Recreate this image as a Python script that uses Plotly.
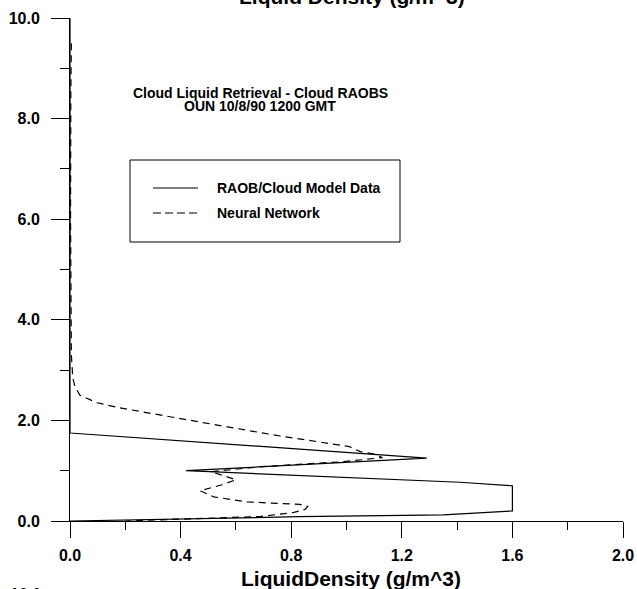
import plotly.graph_objects as go

# ---- data ----
raob_x = [0.0, 0.0, 1.29, 0.42, 1.41, 1.6, 1.6, 1.35, 0.83, 0.40, 0.0]
raob_y = [10.0, 1.75, 1.25, 1.0, 0.77, 0.70, 0.20, 0.12, 0.085, 0.04, 0.0]

nn_x = [0.005, 0.003, 0.002, 0.004, 0.005, 0.01, 0.018, 0.036, 0.098, 0.18, 0.33, 0.57, 0.76,
        0.93, 1.01, 1.05, 1.10, 1.13, 0.99, 0.69, 0.51, 0.55, 0.60, 0.55, 0.47, 0.52, 0.64,
        0.83, 0.86, 0.85, 0.81, 0.69, 0.40, 0.20]
nn_y = [9.5, 8.5, 6.0, 4.3, 3.3, 2.85, 2.67, 2.5, 2.35, 2.25, 2.1, 1.87, 1.69,
        1.545, 1.48, 1.38, 1.33, 1.26, 1.18, 1.08, 0.98, 0.91, 0.82, 0.72, 0.60, 0.48, 0.38,
        0.33, 0.29, 0.23, 0.17, 0.09, 0.03, 0.0]

series_names = ["RAOB/Cloud Model Data", "Neural Network"]
title_text = "Liquid Density (g/m^3)"
xlabel_text = "LiquidDensity (g/m^3)"
inner_title = ["Cloud Liquid Retrieval - Cloud RAOBS", "OUN 10/8/90 1200 GMT"]

FONT = "Liberation Sans, Arial, Helvetica, sans-serif"
W, H = 637, 589
L, R, T, B = 70, 14, 18, 68
PW, PH = W - L - R, H - T - B


def px(xp):
    return (xp - L) / PW


def py(yp):
    return (H - B - yp) / PH


fig = go.Figure()
fig.add_trace(go.Scatter(x=raob_x, y=raob_y, mode="lines", name=series_names[0],
                         line=dict(color="black", width=1.2), showlegend=False))
fig.add_trace(go.Scatter(x=nn_x, y=nn_y, mode="lines", name=series_names[1],
                         line=dict(color="black", width=1.2, dash="7px,5px"), showlegend=False))

tickfont = dict(family=FONT, size=16, color="black", weight="bold")

fig.update_layout(
    width=W, height=H,
    margin=dict(l=L, r=R, t=T, b=B, pad=0, autoexpand=False),
    paper_bgcolor="white", plot_bgcolor="white",
    showlegend=False,
    xaxis=dict(range=[0, 2], dtick=0.4, tick0=0, tickformat=".1f", automargin=False,
               showgrid=False, zeroline=False, showline=True, linecolor="black", linewidth=1,
               ticks="outside", ticklen=16, tickwidth=1, tickcolor="black",
               tickfont=tickfont, ticklabelstandoff=4,
               minor=dict(dtick=0.2, tick0=0, ticks="outside", ticklen=8, tickwidth=1,
                          tickcolor="black", showgrid=False),
               fixedrange=True),
    yaxis=dict(range=[0, 10], dtick=2, tick0=0, tickformat=".1f", automargin=False,
               showgrid=False, zeroline=False, showline=True, linecolor="black", linewidth=1,
               ticks="outside", ticklen=18, tickwidth=1, tickcolor="black",
               tickfont=tickfont, ticklabelstandoff=8,
               minor=dict(dtick=1, tick0=0, ticks="outside", ticklen=9, tickwidth=1,
                          tickcolor="black", showgrid=False),
               fixedrange=True),
)

ann_font = dict(family=FONT, size=14, color="black", weight="bold")
big_font = dict(family=FONT, size=21, color="black", weight="bold")

annotations = [
    dict(text=title_text, x=px(352), y=py(-4), xref="paper", yref="paper",
         xanchor="center", yanchor="middle", showarrow=False, font=big_font),
    dict(text=xlabel_text, x=px(351), y=py(578), xref="paper", yref="paper",
         xanchor="center", yanchor="middle", showarrow=False, font=big_font),
    dict(text=inner_title[0], x=px(260), y=py(93), xref="paper", yref="paper",
         xanchor="center", yanchor="middle", showarrow=False, font=ann_font),
    dict(text=inner_title[1], x=px(260), y=py(106), xref="paper", yref="paper",
         xanchor="center", yanchor="middle", showarrow=False, font=ann_font),
    dict(text=series_names[0], x=px(215), y=py(188), xref="paper", yref="paper",
         xanchor="left", yanchor="middle", showarrow=False, font=ann_font),
    dict(text=series_names[1], x=px(215), y=py(213), xref="paper", yref="paper",
         xanchor="left", yanchor="middle", showarrow=False, font=ann_font),
    dict(text="10.0", x=px(43), y=py(594), xref="paper", yref="paper",
         xanchor="right", yanchor="middle", showarrow=False, font=tickfont),
]
fig.update_layout(annotations=annotations)

shapes = [
    dict(type="rect", xref="paper", yref="paper", x0=px(130), x1=px(400), y0=py(242), y1=py(160),
         line=dict(color="black", width=1), fillcolor="rgba(0,0,0,0)"),
    dict(type="line", xref="paper", yref="paper", x0=px(153), x1=px(198), y0=py(188), y1=py(188),
         line=dict(color="black", width=1.2)),
    dict(type="line", xref="paper", yref="paper", x0=px(153), x1=px(198), y0=py(213), y1=py(213),
         line=dict(color="black", width=1.2, dash="8px,4px")),
]
fig.update_layout(shapes=shapes)

fig.write_html("out.html", config=dict(displayModeBar=False))
